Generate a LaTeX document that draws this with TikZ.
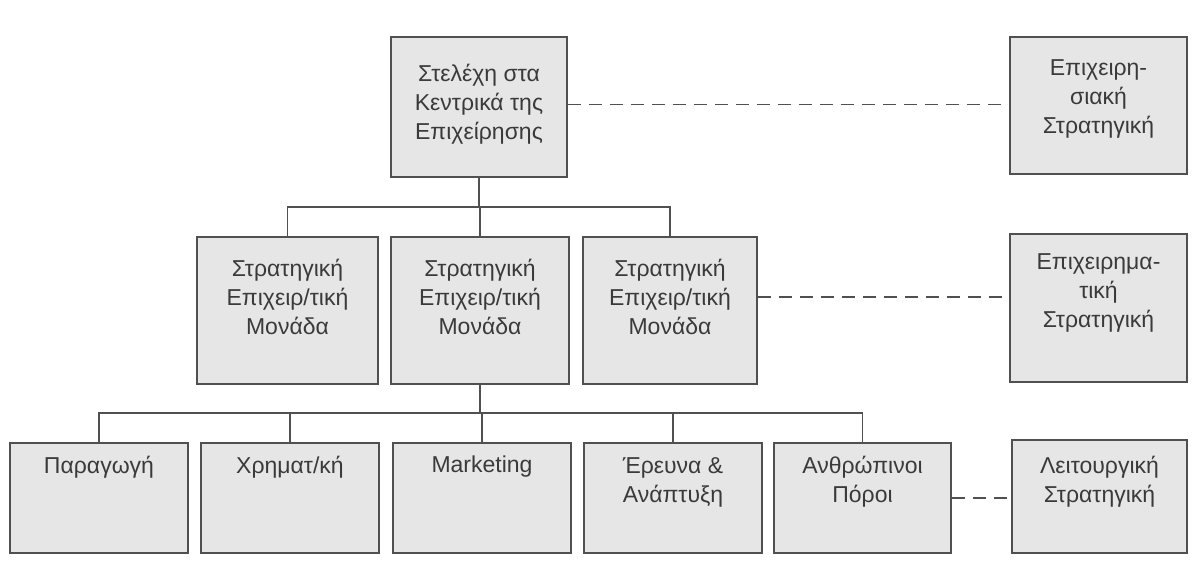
\documentclass[tikz,border=0pt]{standalone}
\usepackage{fontspec}
\setmainfont{Liberation Sans}
\definecolor{boxfill}{HTML}{E6E6E6}
\definecolor{boxline}{HTML}{505050}
\definecolor{inkgray}{HTML}{3A3A3A}
\begin{document}
\begin{tikzpicture}[x=1pt,y=-1pt,
  box/.style={draw=boxline, line width=1.8pt, fill=boxfill, rectangle, inner sep=0pt},
  txt/.style={font=\fontsize{23}{29}\selectfont, align=center, text=inkgray, inner sep=0pt},
  link/.style={draw=boxline, line width=1.5pt},
  dashlink/.style={draw=boxline, line width=1.6pt, dash pattern=on 13pt off 8pt}]
\useasboundingbox (0,0) rectangle (1192,569);

% headquarters level
\node[box, minimum width=176, minimum height=140] (top) at (479,107) {};
\node[txt] (topt) at (479,104.5) {Στελέχη στα\\Κεντρικά της\\Επιχείρησης};

% strategic business units
\node[box, minimum width=181, minimum height=147] (M1) at (287.5,310.5) {};
\node[box, minimum width=178, minimum height=147] (M2) at (480,310.5) {};
\node[box, minimum width=174, minimum height=147] (M3) at (670,310.5) {};
\node[txt] (M1t) at (287.5,297) {Στρατηγική\\Επιχειρ/τική\\Μονάδα};
\node[txt] (M2t) at (480,297) {Στρατηγική\\Επιχειρ/τική\\Μονάδα};
\node[txt] (M3t) at (670,297) {Στρατηγική\\Επιχειρ/τική\\Μονάδα};

% functional departments
\node[box, minimum width=178, minimum height=110] (B1) at (99,498) {};
\node[box, minimum width=178, minimum height=110] (B2) at (290,498) {};
\node[box, minimum width=178, minimum height=110] (B3) at (482,498) {};
\node[box, minimum width=178, minimum height=110] (B4) at (673,498) {};
\node[box, minimum width=177, minimum height=110] (B5) at (862.5,498) {};
\node[txt] (B1t) at (99,467) {Παραγωγή};
\node[txt] (B2t) at (290,467) {Χρηματ/κή};
\node[txt] (B3t) at (482,467) {Marketing};
\node[txt] (B4t) at (673,482) {Έρευνα \&\\Ανάπτυξη};
\node[txt] (B5t) at (862.5,482) {Ανθρώπινοι\\Πόροι};

% strategy levels on the right
\node[box, minimum width=177, minimum height=137] (R1) at (1098.5,105.5) {};
\node[box, minimum width=177, minimum height=148] (R2) at (1098.5,308) {};
\node[box, minimum width=175, minimum height=113] (R3) at (1099.5,496.5) {};
\node[txt] (R1t) at (1098.5,99) {Επιχειρη-\\σιακή\\Στρατηγική};
\node[txt] (R2t) at (1098.5,293) {Επιχειρημα-\\τική\\Στρατηγική};
\node[txt] (R3t) at (1099.5,482) {Λειτουργική\\Στρατηγική};

% tree connectors
\coordinate (tbar) at (0,207);
\coordinate (bbar) at (0,413);
\draw[link] (top.south) -- (top.south |- tbar);
\draw[link] (M1.north) |- (tbar -| M3.north) -- (M3.north);
\draw[link] (M2.north) -- (M2.north |- tbar);
\draw[link] (M2.south) -- (M2.south |- bbar);
\draw[link] (B1.north) |- (bbar -| B5.north) -- (B5.north);
\draw[link] (B2.north) -- (B2.north |- bbar);
\draw[link] (B3.north) -- (B3.north |- bbar);
\draw[link] (B4.north) -- (B4.north |- bbar);

% dashed links to the strategy levels
\draw[dashlink] (topt -| top.east) -- (topt -| R1.west);
\draw[dashlink] (M3t -| M3.east) -- (M3t -| R2.west);
\draw[dashlink] (B5.east) -- (B5.east -| R3.west);
\end{tikzpicture}
\end{document}
